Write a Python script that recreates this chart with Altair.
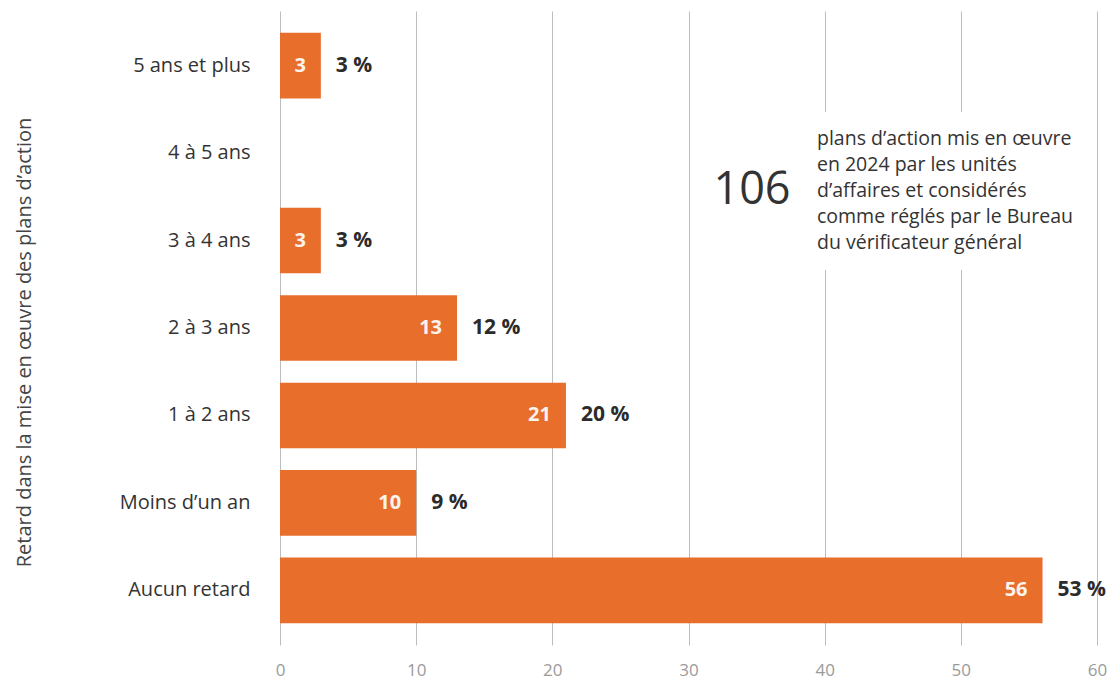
import altair as alt
import pandas as pd

categories = ["5 ans et plus", "4 à 5 ans", "3 à 4 ans", "2 à 3 ans",
              "1 à 2 ans", "Moins d’un an", "Aucun retard"]
counts = [3, 0, 3, 13, 21, 10, 56]
percents = ["3 %", "", "3 %", "12 %", "20 %", "9 %", "53 %"]

total_label = "106"
note_lines = ["plans d’action mis en œuvre", "en 2024 par les unités",
              "d’affaires et considérés", "comme réglés par le Bureau",
              "du vérificateur général"]

x_ticks = [0, 10, 20, 30, 40, 50, 60]
y_title = "Retard dans la mise en œuvre des plans d’action"

FONT = "Open Sans"
ORANGE = "#E86E2C"
H = 634

df = pd.DataFrame({"cat": categories, "n": counts, "pct": percents})
note_df = pd.DataFrame({"total": [total_label]})

y_enc = alt.Y("cat:N", sort=categories,
              scale=alt.Scale(paddingInner=0.25, paddingOuter=0.25),
              axis=alt.Axis(title=y_title, domain=False, ticks=False, grid=False,
                            labelFontSize=20, labelColor="#333333", labelFont=FONT,
                            labelPadding=30, titleFont=FONT, titleFontSize=20,
                            titleFontWeight="normal", titleColor="#444444",
                            titleAngle=-90, titleX=-256, titleY=331,
                            titleAlign="center", titleBaseline="middle"))
x_enc = alt.X("n:Q", scale=alt.Scale(domain=[0, 60], nice=False),
              axis=alt.Axis(title=None, values=x_ticks, domain=False, ticks=False,
                            grid=True, gridColor="#bdbdbd", gridWidth=1,
                            labelFontSize=17, labelColor="#9a9a9a", labelFont=FONT,
                            labelPadding=17, labelFlush=False))

base = alt.Chart(df)

bars = base.mark_bar(color=ORANGE).encode(x=x_enc, y=y_enc)

inner = base.transform_filter("datum.n > 0").mark_text(
    align="right", baseline="middle", dx=-15, font=FONT, fontSize=20,
    fontWeight="bold", color="#fbf3ee"
).encode(x="n:Q", y=alt.Y("cat:N", sort=categories), text="n:Q")

outer = base.transform_filter("datum.n > 0").mark_text(
    align="left", baseline="middle", dx=15, font=FONT, fontSize=21,
    fontWeight="bold", color="#2b2b2b"
).encode(x="n:Q", y=alt.Y("cat:N", sort=categories), text="pct:N")

note_bg = alt.Chart(note_df).mark_rect(color="white").encode(
    x=alt.value(420), x2=alt.value(810), y=alt.value(101), y2=alt.value(259))

big = alt.Chart(note_df).mark_text(
    align="center", baseline="middle", font=FONT, fontSize=45, color="#333333"
).encode(x=alt.value(472), y=alt.value(179), text="total:N")

note = alt.Chart(note_df).mark_text(
    text=note_lines, align="left", baseline="middle", font=FONT, fontSize=19.5,
    lineHeight=26, color="#333333"
).encode(x=alt.value(537), y=alt.value(128))

chart = alt.layer(bars, note_bg, inner, outer, big, note).properties(
    width=817, height=H,
    autosize=alt.AutoSizeParams(type="none"),
    padding={"left": 272, "top": 3, "right": 10, "bottom": 34},
).configure_view(stroke=None)

chart.save("out.html", embed_options={"renderer": "svg", "actions": False})
